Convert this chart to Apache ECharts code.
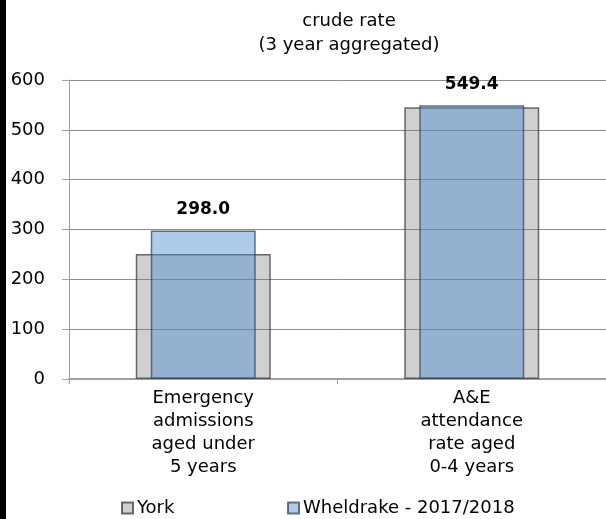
<!DOCTYPE html>
<html>
<head>
<meta charset="utf-8">
<script src="https://cdn.jsdelivr.net/npm/echarts@6/dist/echarts.min.js"></script>
<style>
html,body{margin:0;padding:0;background:#fff;}
#main{width:606px;height:519px;}
</style>
</head>
<body>
<div id="main"></div>
<script>
const categories = ['Emergency\nadmissions\naged under\n5 years', 'A&E\nattendance\nrate aged\n0-4 years'];
const yorkValues = [251, 545.5];
const wheldrakeValues = [298.0, 549.4];
const seriesNames = ['York', 'Wheldrake - 2017/2018'];
const yTicks = {min: 0, max: 600, interval: 100};

const FONT = 'DejaVu Sans';
const chart = echarts.init(document.getElementById('main'), null, {renderer: 'canvas'});
chart.setOption({
  animation: false,
  backgroundColor: '#ffffff',
  textStyle: {fontFamily: FONT},
  title: {
    text: 'crude rate\n(3 year aggregated)',
    left: 344, top: 4, textAlign: 'center',
    textStyle: {fontFamily: FONT, fontSize: 18, fontWeight: 'normal', color: '#000', lineHeight: 24}
  },
  graphic: [{type: 'rect', left: 0, top: 0, shape: {width: 6, height: 519}, style: {fill: '#000'}, z: 100}],
  legend: [
    {data: [seriesNames[0]], left: 116, top: 494, icon: 'rect', itemWidth: 11, itemHeight: 11, itemGap: 0,
     textStyle: {fontFamily: FONT, fontSize: 18, color: '#000', padding: [0,0,0,-1]}},
    {data: [seriesNames[1]], left: 282, top: 494, icon: 'rect', itemWidth: 11, itemHeight: 11, itemGap: 0,
     textStyle: {fontFamily: FONT, fontSize: 18, color: '#000', padding: [0,0,0,-1]}}
  ],
  grid: {left: 69, top: 80, width: 540, bottom: 140, containLabel: false},
  xAxis: [
    {type: 'category', data: categories, position: 'bottom',
     axisLine: {show: true, lineStyle: {color: '#a0a0a0', width: 2}},
     axisTick: {show: true, alignWithLabel: false, length: 5, lineStyle: {color: '#a0a0a0'}},
     axisLabel: {interval: 0, margin: 8, fontFamily: FONT, fontSize: 18, color: '#000', lineHeight: 23, align: 'center'},
     splitLine: {show: false}},
    {type: 'category', data: categories, show: false}
  ],
  yAxis: {
    type: 'value', min: yTicks.min, max: yTicks.max, interval: yTicks.interval,
    axisLine: {show: true, lineStyle: {color: '#a0a0a0', width: 1}},
    axisTick: {show: true, length: 7, lineStyle: {color: '#a0a0a0'}},
    axisLabel: {margin: 24, fontFamily: FONT, fontSize: 18, color: '#000'},
    splitLine: {show: true, lineStyle: {color: '#8c8c8c', width: 1}}
  },
  series: [
    {name: seriesNames[0], type: 'bar', xAxisIndex: 0, data: yorkValues, barWidth: 135,
     itemStyle: {color: 'rgba(120,120,120,0.35)', borderColor: 'rgba(70,70,70,0.8)', borderWidth: 1.5},
     label: {show: false}},
    {name: seriesNames[1], type: 'bar', xAxisIndex: 1, data: wheldrakeValues, barWidth: 105,
     itemStyle: {color: 'rgba(75,139,208,0.45)', borderColor: 'rgba(60,70,85,0.75)', borderWidth: 1.5},
     label: {show: true, position: 'top', distance: 12, fontFamily: FONT, fontSize: 17, fontWeight: 'bold', color: '#000',
       formatter: p => p.value.toFixed(1)}}
  ]
});
</script>
</body>
</html>
